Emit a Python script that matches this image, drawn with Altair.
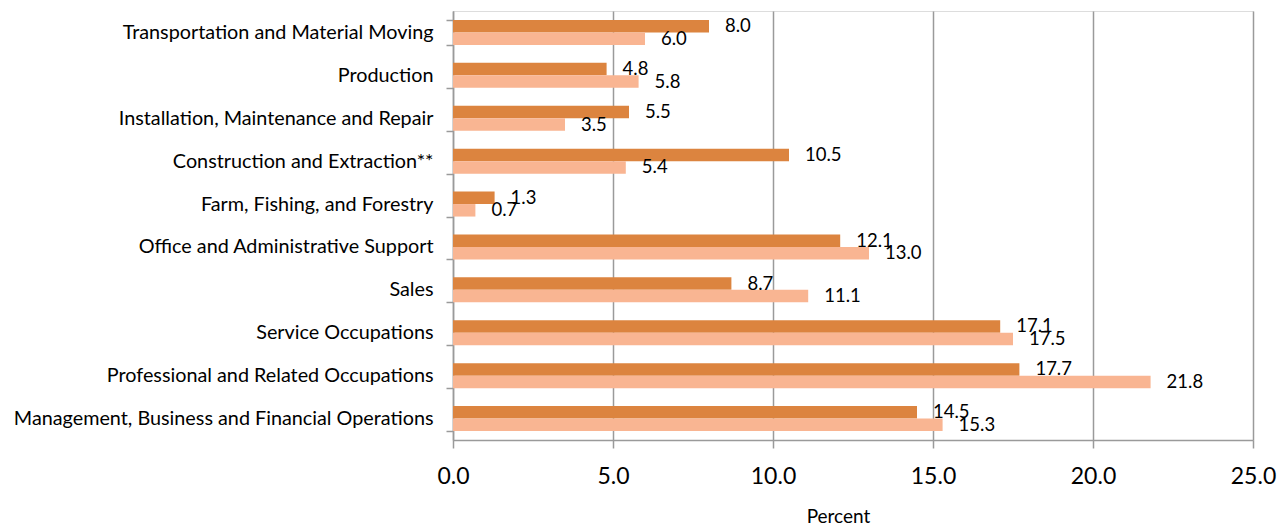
import altair as alt
import pandas as pd

categories = [
    "Transportation and Material Moving",
    "Production",
    "Installation, Maintenance and Repair",
    "Construction and Extraction**",
    "Farm, Fishing, and Forestry",
    "Office and Administrative Support",
    "Sales",
    "Service Occupations",
    "Professional and Related Occupations",
    "Management, Business and Financial Operations",
]
series_names = ["A", "B"]
values_a = [8.0, 4.8, 5.5, 10.5, 1.3, 12.1, 8.7, 17.1, 17.7, 14.5]
values_b = [6.0, 5.8, 3.5, 5.4, 0.7, 13.0, 11.1, 17.5, 21.8, 15.3]
colors = ["#DC843F", "#F9B592"]
x_ticks = [0, 5, 10, 15, 20, 25]

rows = []
for cat, a, b in zip(categories, values_a, values_b):
    rows.append({"cat": cat, "series": series_names[0], "value": a})
    rows.append({"cat": cat, "series": series_names[1], "value": b})
df = pd.DataFrame(rows)

FONT = "Lato"
GRAY = "#9A9A9A"

y_enc = alt.Y(
    "cat:N",
    sort=categories,
    scale=alt.Scale(paddingInner=0.417, paddingOuter=0.2085),
    axis=alt.Axis(
        title=None,
        labelFont=FONT,
        labelFontSize=19.8,
        labelColor="#000000",
        labelPadding=13,
        labelLimit=0,
        domainColor=GRAY,
        domainWidth=1.5,
        tickColor=GRAY,
        tickWidth=1.5,
        tickSize=7,
        tickBand="extent",
        grid=False,
    ),
)
y_off = alt.YOffset("series:N", sort=series_names, scale=alt.Scale(paddingInner=0))
x_scale = alt.Scale(domain=[0, 25], nice=False)

bars = alt.Chart(df).mark_bar(size=12.5).encode(
    x=alt.X(
        "value:Q",
        scale=x_scale,
        axis=alt.Axis(
            values=x_ticks,
            format=".1f",
            title="Percent",
            titleFont=FONT,
            titleFontSize=19,
            titleFontWeight="normal",
            titleColor="#000000",
            titleAlign="center",
            titleBaseline="alphabetic",
            titleX=385,
            titleY=82,
            labelFont=FONT,
            labelFontSize=23,
            labelColor="#000000",
            labelPadding=17,
            labelFlush=False,
            labelOverlap=False,
            domainColor=GRAY,
            domainWidth=1.5,
            tickColor=GRAY,
            tickWidth=1.5,
            tickSize=8,
            gridColor=GRAY,
            gridWidth=1.5,
        ),
    ),
    y=y_enc,
    yOffset=y_off,
    color=alt.Color("series:N", scale=alt.Scale(domain=series_names, range=colors), legend=None),
)

# value labels just past the end of each bar
labels = alt.Chart(df).mark_text(
    align="left", baseline="middle", dx=16, font=FONT, fontSize=18.5, color="#000000"
).encode(
    x=alt.X("value:Q", scale=x_scale),
    y=alt.Y("cat:N", sort=categories),
    yOffset=alt.YOffset("series:N", sort=series_names),
    text=alt.Text("value:Q", format=".1f"),
)

chart = (
    alt.layer(bars, labels)
    .properties(
        width=800,
        height=429,
        autosize="none",
        padding={"left": 453, "top": 11, "right": 35, "bottom": 87},
    )
    .configure_view(stroke=None)
    .configure(background="white")
)

chart.save("out.html", embed_options={"renderer": "svg", "actions": False})
